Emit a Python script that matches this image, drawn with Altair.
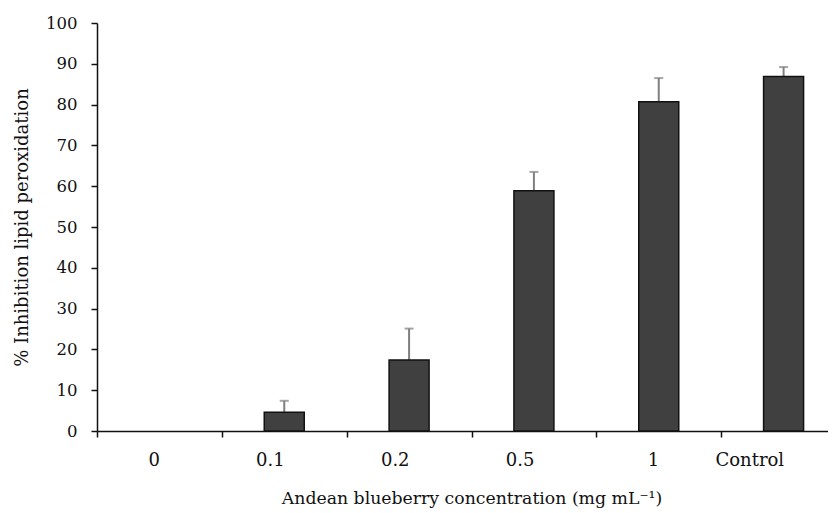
import altair as alt
import pandas as pd

categories = ["0", "0.1", "0.2", "0.5", "1", "Control"]
inhibition = [0.0, 4.6, 17.4, 58.9, 80.7, 86.9]
errors = [0.0, 2.8, 7.7, 4.6, 5.8, 2.3]

df = pd.DataFrame({"cat": categories, "val": inhibition, "err": errors})
df["top"] = df["val"] + df["err"]
df_bar = df[df["val"] > 0]
df_err = df[df["err"] > 0]

FONT = "DejaVu Serif"

xscale = alt.Scale(domain=categories, paddingInner=0, paddingOuter=0, range=[0, 749])
x = alt.X("cat:N", sort=categories, scale=xscale,
          axis=alt.Axis(title="Andean blueberry concentration  (mg mL\u207b\u00b9)",
                        labelAngle=0, tickBand="extent", tickSize=6,
                        labelFontSize=18, titleFontSize=17.3,
                        labelPadding=23, titlePadding=20))
y_axis = alt.Axis(title="% Inhibition lipid peroxidation", values=list(range(0, 101, 10)),
                  tickSize=6, grid=False, labelFontSize=16.5, titleFontSize=18,
                  labelPadding=14, titlePadding=14)

bars = alt.Chart(df_bar).mark_bar(color="#404040", stroke="#111111", strokeWidth=1.5, size=40).encode(
    x=x,
    y=alt.Y("val:Q", scale=alt.Scale(domain=[0, 100], nice=False), axis=y_axis),
)
stems = alt.Chart(df_err).mark_rule(color="#7f7f7f", strokeWidth=2).encode(
    x=alt.X("cat:N", sort=categories, scale=xscale),
    y="val:Q", y2="top:Q",
)
caps = alt.Chart(df_err).mark_tick(color="#7f7f7f", thickness=2, size=9, orient="horizontal").encode(
    x=alt.X("cat:N", sort=categories, scale=xscale),
    y="top:Q",
)

chart = alt.layer(stems, bars, caps).properties(
    width=731, height=408,
    autosize=alt.AutoSizeParams(type="none"),
    padding={"left": 89, "top": 15, "right": 0, "bottom": 80},
).configure_view(stroke=None).configure_axis(
    labelFont=FONT, titleFont=FONT,
    labelColor="#111111", titleColor="#111111", titleFontWeight="normal",
    domainColor="#111111", tickColor="#111111", domainWidth=1.5, tickWidth=1.5,
)

chart.save("out.html", embed_options={"renderer": "svg", "actions": False})
